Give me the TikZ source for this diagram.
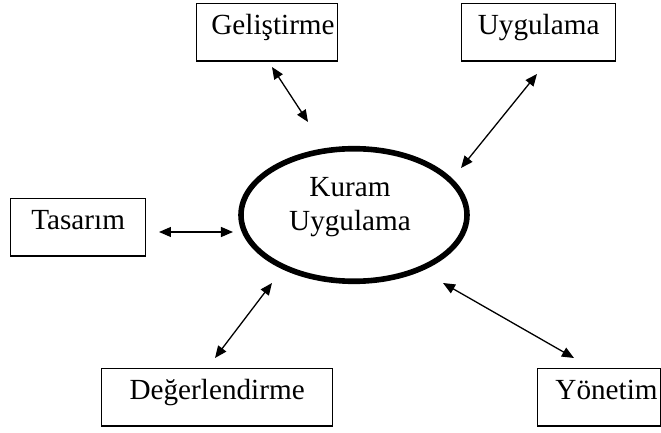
\documentclass[tikz,border=0pt]{standalone}
\usepackage{fontspec}
\setmainfont{Liberation Serif}
\usetikzlibrary{arrows.meta, shapes.geometric}
\tikzstyle{kutu}=[draw, line width=0.65pt, anchor=north west, inner xsep=1.5pt, inner ysep=0pt, minimum height=28.75pt, text height=15.5pt, text depth=13.25pt]
\tikzstyle{merkez}=[draw, ellipse, line width=2.8pt, inner sep=0pt, minimum width=113pt, minimum height=66.3pt]
\tikzstyle{ok}=[{Triangle[length=6pt,width=5pt]}-{Triangle[length=6pt,width=5pt]}, line width=0.65pt]
\newcommand{\kutu}{\node[kutu]}

\begin{document}
\begin{tikzpicture}[x=0.5pt, y=-0.5pt, font=\fontsize{14.6}{17}\selectfont]
                    \useasboundingbox (0,0) rectangle (661,433);
                    \kutu (gelistirme) at (196,3) [minimum width=70.5pt, text width=67.5pt, align=right] {Geliştirme};
                    \kutu (uygulama) at (461,3) [minimum width=77pt] {Uygulama};
                    \kutu (tasarim) at (10,198) [minimum width=67.5pt] {Tasarım};
                    \kutu (degerlendirme) at (101,368) [minimum width=115.5pt] {Değerlendirme};
                    \kutu (yonetim) at (537,368) [minimum width=61.5pt, text width=58.5pt, align=right] {Yönetim};
                    \node[merkez] (kuram) at (354,215) {};
                    \node[align=center] (kuramyazi) at (350,207) {Kuram\\Uygulama};
                    \coordinate (g1) at (272,67);
                    \coordinate (g2) at (308,122);
                    \coordinate (u1) at (537,74);
                    \coordinate (u2) at (461,168);
                    \coordinate (t1) at (159,232);
                    \coordinate (t2) at (233,232);
                    \coordinate (d1) at (215,358);
                    \coordinate (d2) at (272,283);
                    \coordinate (y1) at (443,283);
                    \coordinate (y2) at (574,358);
                    \path[ok]
                        (g1) edge (g2)
                        (u1) edge (u2)
                        (t1) edge (t2)
                        (d1) edge (d2)
                        (y1) edge (y2)
                    ;
                \end{tikzpicture}
\end{document}
